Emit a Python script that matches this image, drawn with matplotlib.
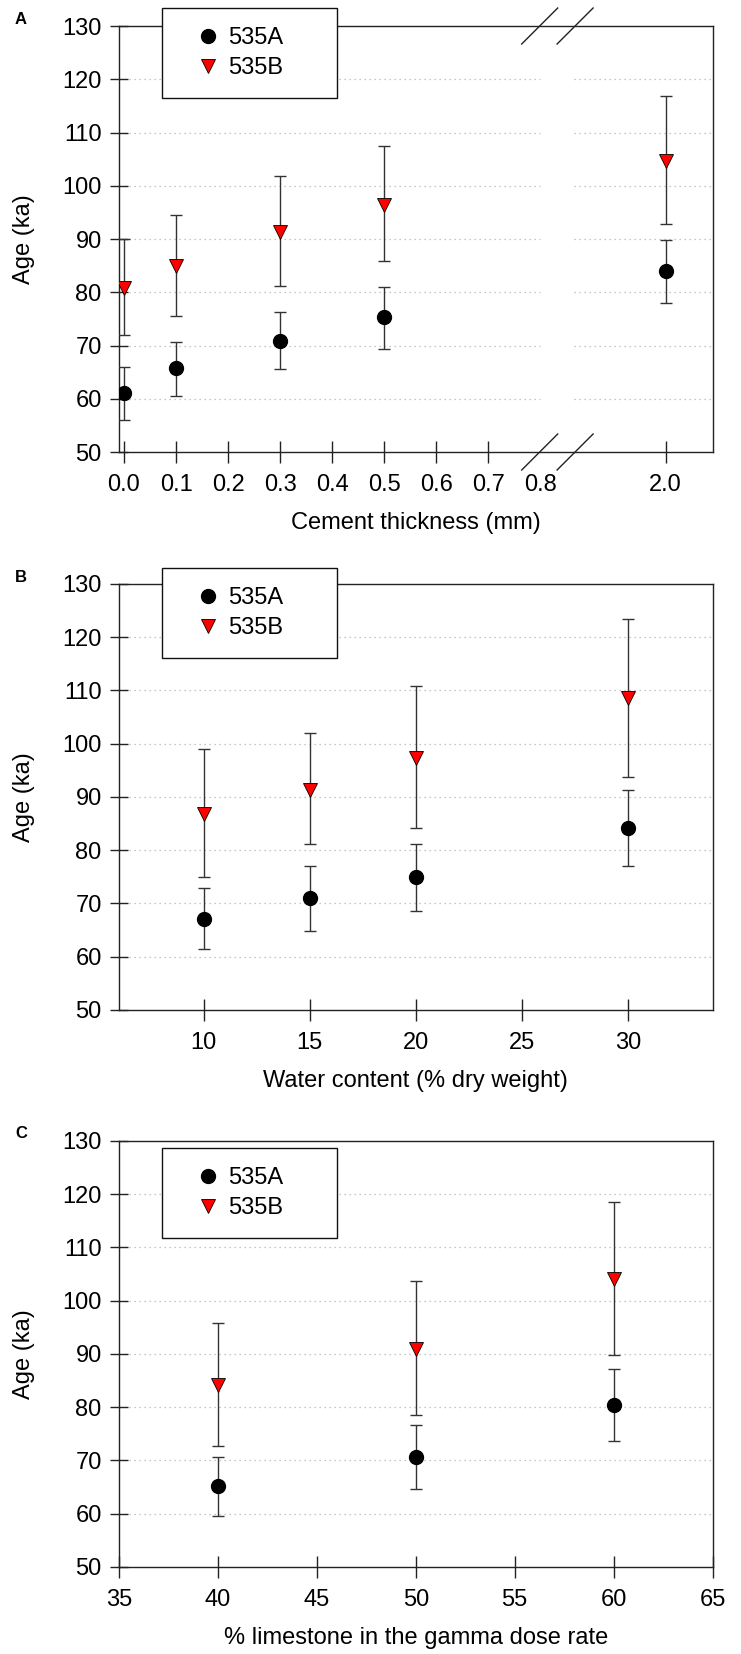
import numpy as np
import matplotlib.pyplot as plt

plt.rcParams['font.family'] = ['Liberation Sans', 'DejaVu Sans']

# --- data ---------------------------------------------------------------
# panel A: cement thickness (mm)
cement_mm = [0.0, 0.1, 0.3, 0.5, 2.0]
a_535A = [61.0, 65.7, 70.9, 75.3, 83.9]
a_535A_lo = [56.0, 60.6, 65.5, 69.4, 78.0]
a_535A_hi = [65.9, 70.6, 76.3, 80.9, 89.9]
a_535B = [80.8, 84.9, 91.4, 96.4, 104.6]
a_535B_lo = [71.9, 75.5, 81.2, 85.8, 92.9]
a_535B_hi = [90.0, 94.6, 101.9, 107.5, 116.9]
a_ticks = [0.0, 0.1, 0.2, 0.3, 0.4, 0.5, 0.6, 0.7, 0.8, 2.0]

# panel B: water content (% dry weight)
water_pct = [10, 15, 20, 30]
b_535A = [67.1, 71.0, 74.9, 84.2]
b_535A_lo = [61.4, 64.9, 68.5, 77.1]
b_535A_hi = [72.9, 77.0, 81.1, 91.4]
b_535B = [86.9, 91.4, 97.4, 108.5]
b_535B_lo = [75.0, 81.2, 84.2, 93.8]
b_535B_hi = [99.0, 102.0, 110.9, 123.5]
b_ticks = [10, 15, 20, 25, 30]

# panel C: % limestone in the gamma dose rate
limestone_pct = [40, 50, 60]
c_535A = [65.3, 70.6, 80.4]
c_535A_lo = [59.6, 64.6, 73.6]
c_535A_hi = [70.6, 76.6, 87.2]
c_535B = [84.2, 90.9, 104.1]
c_535B_lo = [72.7, 78.6, 89.8]
c_535B_hi = [95.9, 103.7, 118.6]
c_ticks = [35, 40, 45, 50, 55, 60, 65]

age_ticks = [50, 60, 70, 80, 90, 100, 110, 120, 130]

# broken x axis of panel A: everything above 0.8 is pulled left
BREAK = 0.8
SHIFT = 2.0 - 1.041


def squeeze(x):
    x = np.asarray(x, float)
    return np.where(x > BREAK + 0.05, x - SHIFT, x)


FS = 17
SPINE = '#222222'
ERR = '#333333'
GRID = '#b4b4b4'


def style_axes(ax):
    for s in ax.spines.values():
        s.set_color(SPINE)
        s.set_linewidth(1.0)
    ax.set_ylim(50, 130)
    ax.set_yticks(age_ticks)
    ax.tick_params(axis='x', direction='inout', length=16, width=1.0,
                   pad=8, labelsize=FS, color=SPINE)
    ax.tick_params(axis='y', direction='inout', length=13, width=1.0,
                   pad=6, labelsize=FS, color=SPINE)
    ax.set_ylabel('Age (ka)', fontsize=FS)
    ax.yaxis.set_label_coords(-0.141, 0.5)


def draw_series(ax, x, ya, ya_lo, ya_hi, yb, yb_lo, yb_hi):
    for y, lo, hi in ((ya, ya_lo, ya_hi), (yb, yb_lo, yb_hi)):
        y = np.asarray(y)
        yerr = [y - np.asarray(lo), np.asarray(hi) - y]
        ax.errorbar(x, y, yerr=yerr, fmt='none', ecolor=ERR,
                    elinewidth=1.0, capsize=4.5, capthick=1.0, zorder=3)
    ax.plot(x, ya, 'o', color='black', ms=10, label='535A', zorder=4)
    ax.plot(x, yb, 'v', mfc='red', mec='black', mew=0.6, ms=10,
            label='535B', zorder=4)


def add_legend(ax, ytop):
    leg = ax.legend(loc='upper left', bbox_to_anchor=(0.0725, 0, 0.295, ytop),
                    mode='expand', fontsize=FS, frameon=True, fancybox=False,
                    framealpha=1, edgecolor='#111111', borderpad=0.8,
                    labelspacing=0.35, handlelength=2.3, handletextpad=-0.3,
                    borderaxespad=0)
    leg.get_frame().set_linewidth(1.0)
    leg.set_zorder(10)


fig = plt.figure(figsize=(7.41, 16.54), dpi=100)
left, width, height = 0.1606, 0.8010, 0.25756
axA = fig.add_axes([left, 0.72672, width, height])
axB = fig.add_axes([left, 0.38936, width, height])
axC = fig.add_axes([left, 0.05260, width, height])

# ---- panel A ----
style_axes(axA)
axA.set_xlim(-0.0096, 1.1312)
gap_l, gap_r = 0.799, 0.864
axA.hlines(age_ticks[1:-1], -0.0096, gap_l, colors=GRID, linewidth=0.9,
           linestyles=(0, (1, 3)), zorder=1)
axA.hlines(age_ticks[1:-1], gap_r, 1.1312, colors=GRID, linewidth=0.9,
           linestyles=(0, (1, 3)), zorder=1)
draw_series(axA, squeeze(cement_mm), a_535A, a_535A_lo, a_535A_hi,
            a_535B, a_535B_lo, a_535B_hi)
axA.set_xticks(squeeze(a_ticks))
axA.set_xticklabels(['%.1f' % t for t in a_ticks])
axA.xaxis.get_major_ticks()[a_ticks.index(0.8)].tick1line.set_visible(False)
# break marks on top and bottom spines
dx, dy = 0.0346, 3.38
for xc in (0.799, 0.867):
    for yc in (130, 50):
        axA.plot([xc - dx, xc + dx], [yc - dy, yc + dy], color=SPINE,
                 lw=1.0, clip_on=False, zorder=6)
axA.set_xlabel('Cement thickness (mm)', fontsize=FS)
axA.xaxis.set_label_coords(0.5, -0.14)
add_legend(axA, 1.042)

# ---- panel B ----
style_axes(axB)
axB.set_xlim(6, 34)
axB.hlines(age_ticks[1:-1], 6, 34, colors=GRID, linewidth=0.9,
           linestyles=(0, (1, 3)), zorder=1)
draw_series(axB, water_pct, b_535A, b_535A_lo, b_535A_hi,
            b_535B, b_535B_lo, b_535B_hi)
axB.set_xticks(b_ticks)
axB.set_xlabel('Water content (% dry weight)', fontsize=FS)
axB.xaxis.set_label_coords(0.5, -0.14)
add_legend(axB, 1.0376)

# ---- panel C ----
style_axes(axC)
axC.set_xlim(35, 65)
axC.hlines(age_ticks[1:-1], 35, 65, colors=GRID, linewidth=0.9,
           linestyles=(0, (1, 3)), zorder=1)
draw_series(axC, limestone_pct, c_535A, c_535A_lo, c_535A_hi,
            c_535B, c_535B_lo, c_535B_hi)
axC.set_xticks(c_ticks)
axC.set_xlabel('% limestone in the gamma dose rate', fontsize=FS)
axC.xaxis.set_label_coords(0.5, -0.14)
add_legend(axC, 0.9836)

# panel letters
for lab, ypx in (('A', 19), ('B', 577), ('C', 1134)):
    fig.text(21 / 741, 1 - ypx / 1654, lab, ha='center', va='center',
             fontsize=12, fontweight='bold')

fig.savefig('out.png', dpi=100)
